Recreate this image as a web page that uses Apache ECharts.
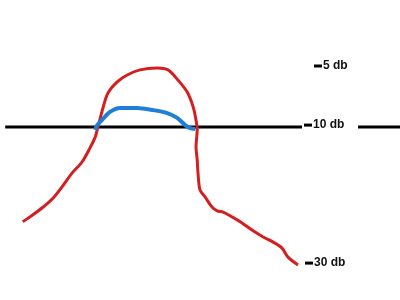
<!DOCTYPE html>
<html>
<head>
<meta charset="utf-8">
<script src="https://cdn.jsdelivr.net/npm/echarts@6/dist/echarts.min.js"></script>
<style>html,body{margin:0;padding:0;background:#fff}#c{width:400px;height:300px}</style>
</head>
<body>
<div id="c"></div>
<script>
// Tick labels (level units on a 0-100 inverted axis)
const tickValues = [22, 41.7, 87.7];
const tickLabels = ['5 db', '10 db', '30 db'];

// Red curve (x, level)
const redX = [5.7, 7.5, 10.8, 13.3, 15.5, 18.0, 20.5, 22.5, 23.8, 24.3, 25.8, 27.0, 29.3, 31.8, 35.0, 39.3, 42.0, 44.5, 46.8, 48.3, 49.0, 49.3, 49.0, 49.3, 49.5, 50.0, 51.3, 53.0, 54.3, 55.8, 58.0, 60.5, 63.0, 65.8, 68.3, 70.5, 72.0, 74.5];
const redY = [73.9, 72.3, 69.0, 66.0, 62.3, 57.7, 54.0, 49.3, 45.7, 43.3, 35.7, 31.0, 27.3, 25.0, 23.3, 22.7, 23.3, 26.7, 30.7, 35.7, 40.0, 43.3, 49.0, 53.3, 57.7, 63.3, 65.7, 69.0, 70.3, 70.7, 72.3, 74.3, 76.7, 79.0, 80.7, 82.7, 85.7, 88.3];

// Blue curve
const blueX = [23.8, 24.3, 25.5, 27.5, 30.0, 34.3, 38.3, 41.8, 44.3, 46.3, 47.5, 48.8];
const blueY = [43.3, 41.7, 40.0, 37.3, 36.0, 36.0, 36.7, 37.7, 39.3, 41.7, 42.7, 43.0];

// Black reference line (10 db), broken around the label
const refX = [1.3, 75.5, '-', 89.5, 100];
const refY = [42.3, 42.3, '-', 42.3, 42.3];

const zip = (xs, ys) => xs.map((x, i) => [x, ys[i]]);

const chart = echarts.init(document.getElementById('c'), null, {renderer: 'canvas'});
chart.setOption({
  animation: false,
  backgroundColor: '#ffffff',
  grid: {left: 0, right: 0, top: 0, bottom: 0, containLabel: false},
  xAxis: {type: 'value', min: 0, max: 100, show: false},
  yAxis: {
    type: 'value', min: 0, max: 100, inverse: true,
    position: 'right', offset: -96,
    axisLine: {show: false},
    splitLine: {show: false},
    axisTick: {show: false},
    axisLabel: {
      show: true, customValues: tickValues, margin: 0,
      fontFamily: 'Liberation Sans, Arial, sans-serif', fontWeight: 'bold', fontSize: 12, color: '#111',
      formatter: function (v) {
        let best = 0;
        tickValues.forEach((t, i) => { if (Math.abs(t - v) < Math.abs(tickValues[best] - v)) best = i; });
        const pad = best === 0 ? '{p5|}' : (best === 2 ? '{p1|}' : '');
        return pad + '{t|}{g|}{l|' + tickLabels[best] + '}';
      },
      rich: {
        p5: {width: 10, height: 3},
        p1: {width: 1, height: 3},
        t: {width: 8, height: 3, backgroundColor: '#000'},
        g: {width: 1, height: 3},
        l: {fontFamily: 'Liberation Sans, Arial, sans-serif', fontWeight: 'bold', fontSize: 12, color: '#111'}
      }
    }
  },
  series: [
    {type: 'line', data: zip(refX, refY), symbol: 'none', connectNulls: false,
     lineStyle: {color: '#000000', width: 3}},
    {type: 'line', data: zip(redX, redY), symbol: 'none', smooth: 0.3,
     lineStyle: {color: '#d31f1f', width: 3}},
    {type: 'line', data: zip(blueX, blueY), symbol: 'none', smooth: 0.3,
     lineStyle: {color: '#1f7fd6', width: 4}}
  ]
});
</script>
</body>
</html>
